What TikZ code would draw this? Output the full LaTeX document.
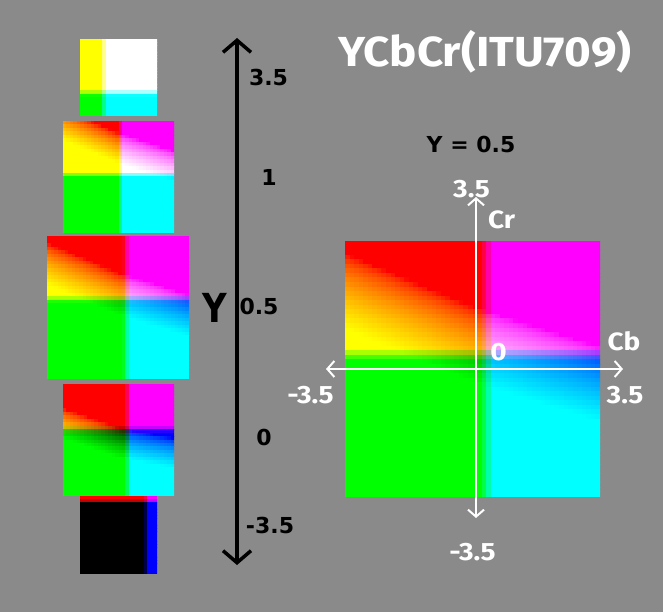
\documentclass[tikz,border=0pt]{standalone}
\usepackage{fontspec}
\setmainfont{Fira Sans}
\newfontfamily\lblfont{DejaVu Sans}
\usetikzlibrary{arrows.meta}
\definecolor{bg}{RGB}{138,138,138}
% colour slice: #1 x0, #2 y0, #3 size, #4 cells
\newcommand\cslice[4]{%
  \pgfmathsetmacro\cs{#3/#4}%
  \begin{scope}
  \clip (#1,#2) rectangle ++(#3,#3);
  \foreach \i in {1,...,#4}{%
    \foreach \j in {1,...,#4}{%
      \pgfmathsetmacro\uu{(\i-0.5)/#4*2-1}%
      \pgfmathsetmacro\vv{1-(\j-0.5)/#4*2}%
      \pgfmathsetmacro\RR{min(1,max(0,(\vv-\Pr)/\Pw+0.5))}%
      \pgfmathsetmacro\BB{min(1,max(0,(\uu-\Pb)/\Pw+0.5))}%
      \pgfmathsetmacro\GL{min(1,max(0,\Pg-ifthenelse(\uu<0,\PaL,\PaR)*\uu-\Pgb*\vv))}%
      \pgfmathsetmacro\GG{ifthenelse(\GL>0.0001,\GL^0.6,0)}%
      \definecolor{cc}{rgb}{\RR,\GG,\BB}%
      \fill[cc] ({#1+(\i-1)*\cs},{#2+(\j-1)*\cs}) rectangle ++({\cs+0.7},{\cs+0.7});
    }}
  \end{scope}}
\newcommand\setp[7]{\def\Pg{#1}\def\PaL{#2}\def\PaR{#3}\def\Pgb{#4}\def\Pr{#5}\def\Pb{#6}\def\Pw{#7}}
\begin{document}
\begin{tikzpicture}[x=1pt,y=-1pt,
  wtext/.style={text=white,inner sep=0,anchor=base},
  wlbl/.style={wtext,font=\fontsize{25}{25}\selectfont\bfseries,xscale=1.12},
  blbl/.style={text=black,font=\lblfont\fontsize{22}{22}\selectfont\bfseries,inner sep=0,anchor=base},
  yaxis/.style={line width=3.5pt,draw=black,{Straight Barb[length=12pt,width=28pt]}-{Straight Barb[length=12pt,width=28pt]}},
  paxis/.style={line width=2pt,draw=white,-{Straight Barb[length=7pt,width=16pt]}}]
\fill[bg] (0,0) rectangle (663,612);
\useasboundingbox (0,0) rectangle (663,612);
% slices
\setp{5}{0.6}{0.6}{1.8}{-0.4}{-0.38}{0.13}
\cslice{80}{39}{77}{24}
\setp{1.44}{0.78}{0.6}{1.85}{0.03}{0.03}{0.12}
\cslice{63}{121}{111}{32}
\setp{0.82}{0.71}{0.53}{1.7}{0.11}{0.11}{0.09}
\cslice{47}{236}{142}{40}
\setp{0.39}{0.65}{0.35}{1.85}{0.19}{0.17}{0.1}
\cslice{63}{384}{111}{32}
\setp{-4}{0.6}{0.6}{1.8}{0.85}{0.73}{0.1}
\cslice{80}{496}{77}{24}
% big plane
\setp{0.82}{0.71}{0.53}{1.7}{0.11}{0.11}{0.09}
\cslice{345}{241}{255}{56}
% Y axis
\coordinate (ytop) at (237,38);
\coordinate (ybot) at (237,565);
\draw[yaxis] (ybot) -- (ytop);
\node[blbl] (l35) at (268.5,86) {3.5};
\node[blbl] (l1) at (269,186) {1};
\node[blbl] (l05) at (259,314) {0.5};
\node[blbl] (l0) at (264,445) {0};
\node[blbl] (lm35) at (270,533) {-3.5};
\node[blbl,font=\lblfont\fontsize{40}{40}\selectfont\bfseries,xscale=0.85] (Ylab) at (215,322) {Y};
% plane axes
\coordinate (o) at (476,369);
\coordinate (cbL) at (326,369);
\coordinate (cbR) at (623,369);
\coordinate (crT) at (476,197);
\coordinate (crB) at (476,518);
\draw[paxis] (o) -- (cbL);
\draw[paxis] (o) -- (cbR);
\draw[paxis] (o) -- (crT);
\draw[paxis] (o) -- (crB);
\node[wlbl] (t35) at (471.5,198) {3.5};
\node[wlbl] (tcr) at (501.5,229) {Cr};
\node[wlbl] (t0) at (498.5,360) {0};
\node[wlbl] (tcb) at (624,350) {Cb};
\node[wlbl] (tr35) at (625,403) {3.5};
\node[wlbl] (tl35) at (310.5,403) {-3.5};
\node[wlbl] (tb35) at (472.5,560) {-3.5};
% titles
\node[wtext,font=\fontsize{42}{42}\selectfont\bfseries,xscale=1.09] (title) at (485,67) {YCbCr(ITU709)};
\node[blbl] (ylab) at (471,153) {Y = 0.5};
\end{tikzpicture}
\end{document}
